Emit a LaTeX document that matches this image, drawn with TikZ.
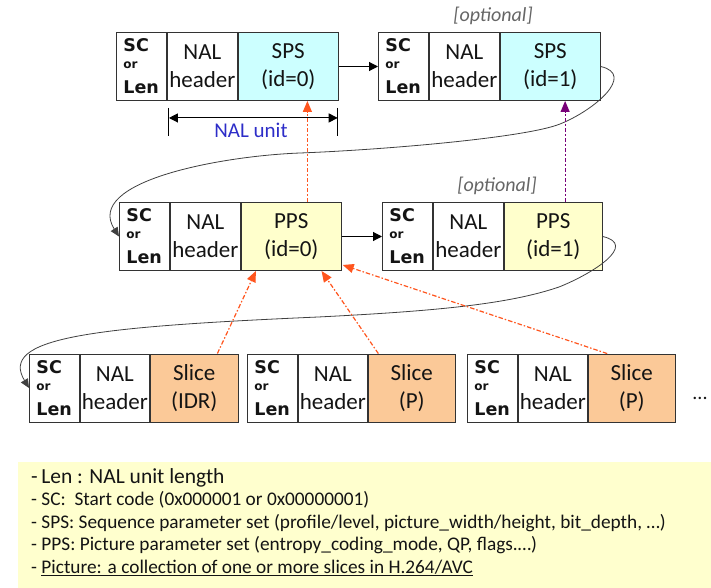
\documentclass[tikz,border=0pt]{standalone}
\usepackage{fontspec}
\setmainfont{Carlito}
\newfontfamily\scfont{DejaVu Sans}
\usetikzlibrary{positioning,arrows.meta,calc}
\definecolor{spsfill}{RGB}{204,255,255}
\definecolor{ppsfill}{RGB}{255,255,204}
\definecolor{slicefill}{RGB}{251,201,152}
\definecolor{notefill}{RGB}{255,255,206}
\definecolor{refred}{RGB}{255,85,30}
\definecolor{optpurple}{RGB}{120,0,120}
\definecolor{unitblue}{RGB}{45,45,200}
\definecolor{ink}{RGB}{20,20,20}
\newcommand{\sclen}{SC\\[-4pt]{\fontsize{12}{12}\selectfont or}\\[4pt]Len}
\tikzset{cell/.style={draw=black!80, line width=0.9pt, minimum height=68pt, inner sep=0pt,
						align=center, text=ink, font=\fontsize{23}{28}\selectfont},
		sccell/.style={cell, minimum width=50pt, text width=36pt, inner xsep=7pt, align=left,
						font=\scfont\bfseries\fontsize{17.5}{21}\selectfont},
		hdcell/.style={cell, minimum width=#1},
		hdcell/.default=70pt}

\begin{document}
\begin{tikzpicture}[x=1pt, y=-1pt,
										link/.style={line width=1.1pt, -{Triangle[length=9pt, width=9pt]}},
										wrap/.style={line width=0.8pt, draw=black!75, -{Triangle[length=9pt, width=8pt]}},
										ref/.style={line width=1.2pt, color=refred, dash pattern=on 4.5pt off 2pt on 1.5pt off 2pt,
																-{Triangle[length=11pt, width=9pt]}},
										optional/.style={font=\fontsize{20}{22}\selectfont\itshape, text=black!60}]
	\useasboundingbox (0,0) rectangle (711,588);
	\node [sccell, anchor=west] (sc1) at (116,66.5) {\sclen};
	\node [hdcell, right=0pt of sc1] (nal1) {NAL\\header};
	\node [cell, minimum width=100pt, fill=spsfill, right=0pt of nal1] (sps0) {SPS\\(id=0)};
	\node [sccell, anchor=west] (sc2) at (378,66.5) {\sclen};
	\node [hdcell, right=0pt of sc2] (nal2) {NAL\\header};
	\node [cell, minimum width=100pt, fill=spsfill, right=0pt of nal2] (sps1) {SPS\\(id=1)};
	\node [optional] (opt1) at (493,16) {[optional]};
	\node [sccell, anchor=west] (sc3) at (119,236.5) {\sclen};
	\node [hdcell, right=0pt of sc3] (nal3) {NAL\\header};
	\node [cell, minimum width=100pt, fill=ppsfill, right=0pt of nal3] (pps0) {PPS\\(id=0)};
	\node [sccell, anchor=west] (sc4) at (382,236.5) {\sclen};
	\node [hdcell, right=0pt of sc4] (nal4) {NAL\\header};
	\node [cell, minimum width=98pt, fill=ppsfill, right=0pt of nal4] (pps1) {PPS\\(id=1)};
	\node [optional] (opt2) at (497,186) {[optional]};
	\node [sccell, anchor=west] (sc5) at (29,388) {\sclen};
	\node [hdcell=69pt, right=0pt of sc5] (nal5) {NAL\\header};
	\node [cell, minimum width=88pt, fill=slicefill, right=0pt of nal5] (idr) {Slice\\(IDR)};
	\node [sccell, anchor=west] (sc6) at (247,388) {\sclen};
	\node [hdcell=69pt, right=0pt of sc6] (nal6) {NAL\\header};
	\node [cell, minimum width=87pt, fill=slicefill, right=0pt of nal6] (slp1) {Slice\\(P)};
	\node [sccell, anchor=west] (sc7) at (467,388) {\sclen};
	\node [hdcell=69pt, right=0pt of sc7] (nal7) {NAL\\header};
	\node [cell, minimum width=87pt, fill=slicefill, right=0pt of nal7] (slp2) {Slice\\(P)};
	\node [font=\fontsize{20}{22}\selectfont, text=ink] (more) at (700,398) {...};
	% NAL unit span
	\draw [line width=1pt] (nal1.south west) ++(2,7) coordinate (u1) -- ++(0,28);
	\draw [line width=1pt] (sps0.south east) ++(-1,7) coordinate (u2) -- ++(0,28);
	\draw [line width=1.1pt, {Triangle[length=9pt, width=9pt]}-{Triangle[length=9pt, width=9pt]}]
		($(u1)+(0,10)$) -- ($(u2)+(0,10)$);
	\node [font=\fontsize{21}{22}\selectfont, text=unitblue] (unit) at (251,130) {NAL unit};
	\draw [link] (sps0.east) -- (sc2.west);
	\draw [link] (pps0.east) -- (sc4.west);
	% wrap-around links
	\coordinate (w1) at (560,124);
	\coordinate (w2) at (300,153);
	\draw [wrap] (sps1.east) .. controls +(35,8) and +(35,-14) .. (w1)
		.. controls +(-35,14) and +(80,-3) .. (w2)
		.. controls +(-80,3) and +(-35,-55) .. (sc3.west);
	\coordinate (w3) at (559,287);
	\coordinate (w4) at (318,317);
	\draw [wrap] (pps1.east) .. controls +(35,8) and +(35,-14) .. (w3)
		.. controls +(-50,17) and +(120,-6) .. (w4)
		.. controls +(-230,10) and +(-30,-50) .. (sc5.west);
	% parameter set references
	\draw [ref] ($(pps0.north west)!.66!(pps0.north east)$) coordinate (r1) -- (r1 |- sps0.south);
	\draw [ref, color=optpurple] ($(pps1.north west)!.62!(pps1.north east)$) coordinate (r2) -- (r2 |- sps1.south);
	\draw [ref] ($(idr.north west)!.76!(idr.north east)$) -- ($(pps0.south west)!.15!(pps0.south east)$);
	\draw [ref] ($(slp1.north west)!.12!(slp1.north east)$) -- ($(pps0.south west)!.8!(pps0.south east)$);
	\draw [ref] ($(slp2.north west)!.22!(slp2.north east)$) -- ($(pps0.south east)+(1,-6)$);
	% notes
	\node [fill=notefill, minimum width=693pt, minimum height=126pt, anchor=north west, inner sep=0pt] (notes) at (18,462) {};
	\node [anchor=north west, align=left, inner sep=0pt, text=ink, font=\fontsize{19.3}{22.5}\selectfont] (notetext) at (31,468)
		{{\fontsize{21.5}{22.5}\selectfont -\,Len : NAL unit length}\\
		 - SC:\ \ Start code (0x000001 or 0x00000001)\\
		 - SPS: Sequence parameter set (profile/level, picture\_width/height, bit\_depth, …)\\
		 - PPS: Picture parameter set (entropy\_coding\_mode, QP, flags.…)\\
		 - \underline{Picture: a collection of one or more slices in H.264/AVC}};
\end{tikzpicture}
\end{document}
